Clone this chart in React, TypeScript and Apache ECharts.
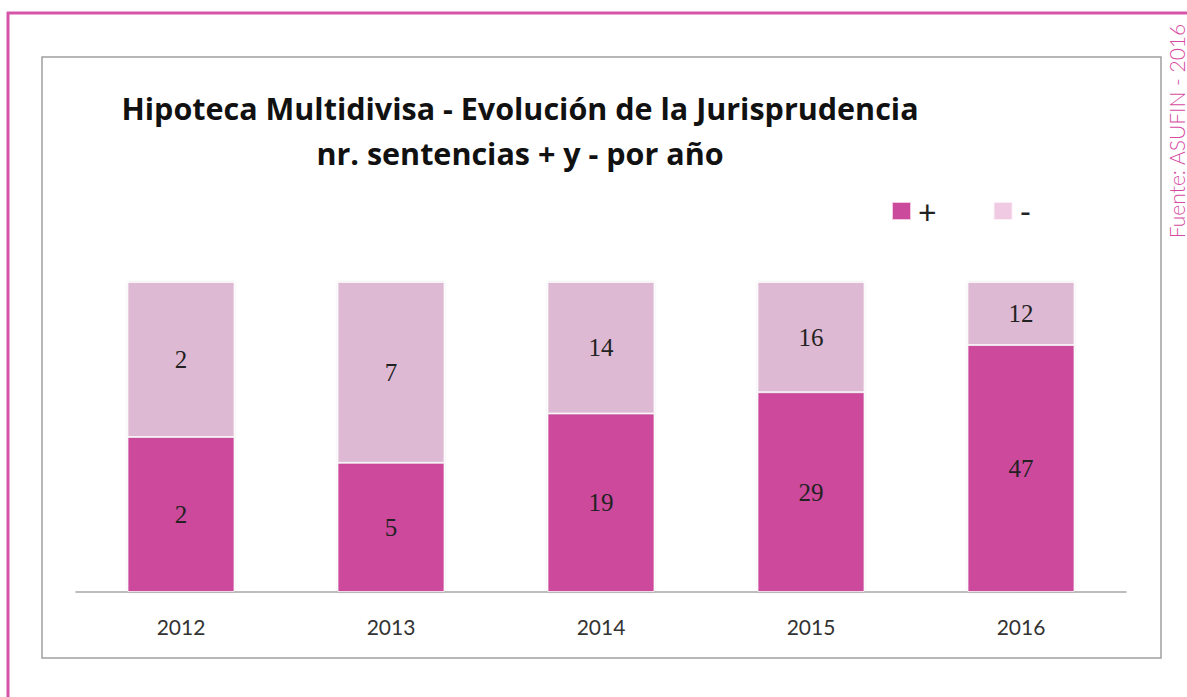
import React, { useEffect, useRef } from "react";
import * as echarts from "echarts";

const years = ["2012", "2013", "2014", "2015", "2016"];
const positivos = [2, 5, 19, 29, 47];
const negativos = [2, 7, 14, 16, 12];
const titleLines = ["Hipoteca Multidivisa - Evolución de la Jurisprudencia", "nr. sentencias + y - por año"];
const sourceText = "Fuente: ASUFIN - 2016";

const DARK = "#CC4A9C";
const LIGHT = "#DEB9D3";
const LEGEND_LIGHT = "#F0C9E3";

export default function App() {
  const ref = useRef<HTMLDivElement>(null);
  useEffect(() => {
    document.body.style.margin = "0";
    const chart = echarts.init(ref.current!, null, { renderer: "svg" });
    const totals = positivos.map((p, i) => p + negativos[i]);
    const pctPos = positivos.map((p, i) => (p / totals[i]) * 100);
    const pctNeg = negativos.map((n, i) => (n / totals[i]) * 100);
    const labelStyle = {
      show: true,
      position: "inside",
      fontFamily: "Liberation Serif",
      fontSize: 25,
      color: "#222",
    };
    chart.setOption({
      animation: false,
      backgroundColor: "#fff",
      title: {
        text: titleLines.join("\n"),
        left: 515,
        top: 80,
        textAlign: "center",
        textStyle: {
          fontFamily: "Open Sans",
          fontWeight: "bold",
          fontSize: 30.5,
          lineHeight: 45,
          color: "#111",
        },
      },
      legend: {
        left: 886,
        top: 190,
        itemWidth: 19,
        itemHeight: 18,
        itemGap: 56,
        icon: "rect",
        textStyle: { fontFamily: "Lato", fontSize: 32, color: "#222", padding: [6, 0, 0, 2] },
        data: [
          { name: "+", itemStyle: { color: DARK } },
          { name: "-", itemStyle: { color: LEGEND_LIGHT } },
        ],
      },
      grid: { left: 76, right: 61, top: 282, bottom: 105 },
      xAxis: {
        type: "category",
        data: years,
        axisLine: { show: true, lineStyle: { color: "#A8A8A8", width: 1.5 } },
        axisTick: { show: false },
        axisLabel: { fontFamily: "Lato", fontSize: 21, color: "#333", margin: 24 },
      },
      yAxis: { type: "value", min: 0, max: 100, show: false, splitLine: { show: false } },
      series: [
        {
          name: "+",
          type: "bar",
          stack: "s",
          barWidth: 107,
          data: pctPos,
          itemStyle: { color: DARK, borderColor: "rgba(255,255,255,0.7)", borderWidth: 1, shadowBlur: 3, shadowColor: "rgba(0,0,0,0.12)" },
          label: { ...labelStyle, formatter: (p: any) => String(positivos[p.dataIndex]) },
        },
        {
          name: "-",
          type: "bar",
          stack: "s",
          barWidth: 107,
          data: pctNeg,
          itemStyle: { color: LIGHT, borderColor: "rgba(255,255,255,0.7)", borderWidth: 1, shadowBlur: 3, shadowColor: "rgba(0,0,0,0.12)" },
          label: { ...labelStyle, formatter: (p: any) => String(negativos[p.dataIndex]) },
        },
      ],
      graphic: [
        {
          type: "line",
          shape: { x1: 7, y1: 13, x2: 1187, y2: 13 },
          style: { stroke: "#D655A9", lineWidth: 3 },
        },
        {
          type: "line",
          shape: { x1: 8, y1: 12, x2: 8, y2: 697 },
          style: { stroke: "#D655A9", lineWidth: 3 },
        },
        {
          type: "rect",
          shape: { x: 42, y: 57, width: 1119, height: 601 },
          style: { fill: "none", stroke: "#A0A0A0", lineWidth: 1.5 },
          z: -1,
        },
        {
          type: "text",
          x: 1176,
          y: 131,
          rotation: Math.PI / 2,
          style: {
            text: sourceText,
            fontFamily: "Lato",
            fontWeight: 300,
            fontSize: 21,
            fill: "#D64AA2",
            align: "center",
            verticalAlign: "middle",
          },
        },
      ],
    });
    return () => chart.dispose();
  }, []);
  return <div ref={ref} style={{ width: 1187, height: 697 }} />;
}
